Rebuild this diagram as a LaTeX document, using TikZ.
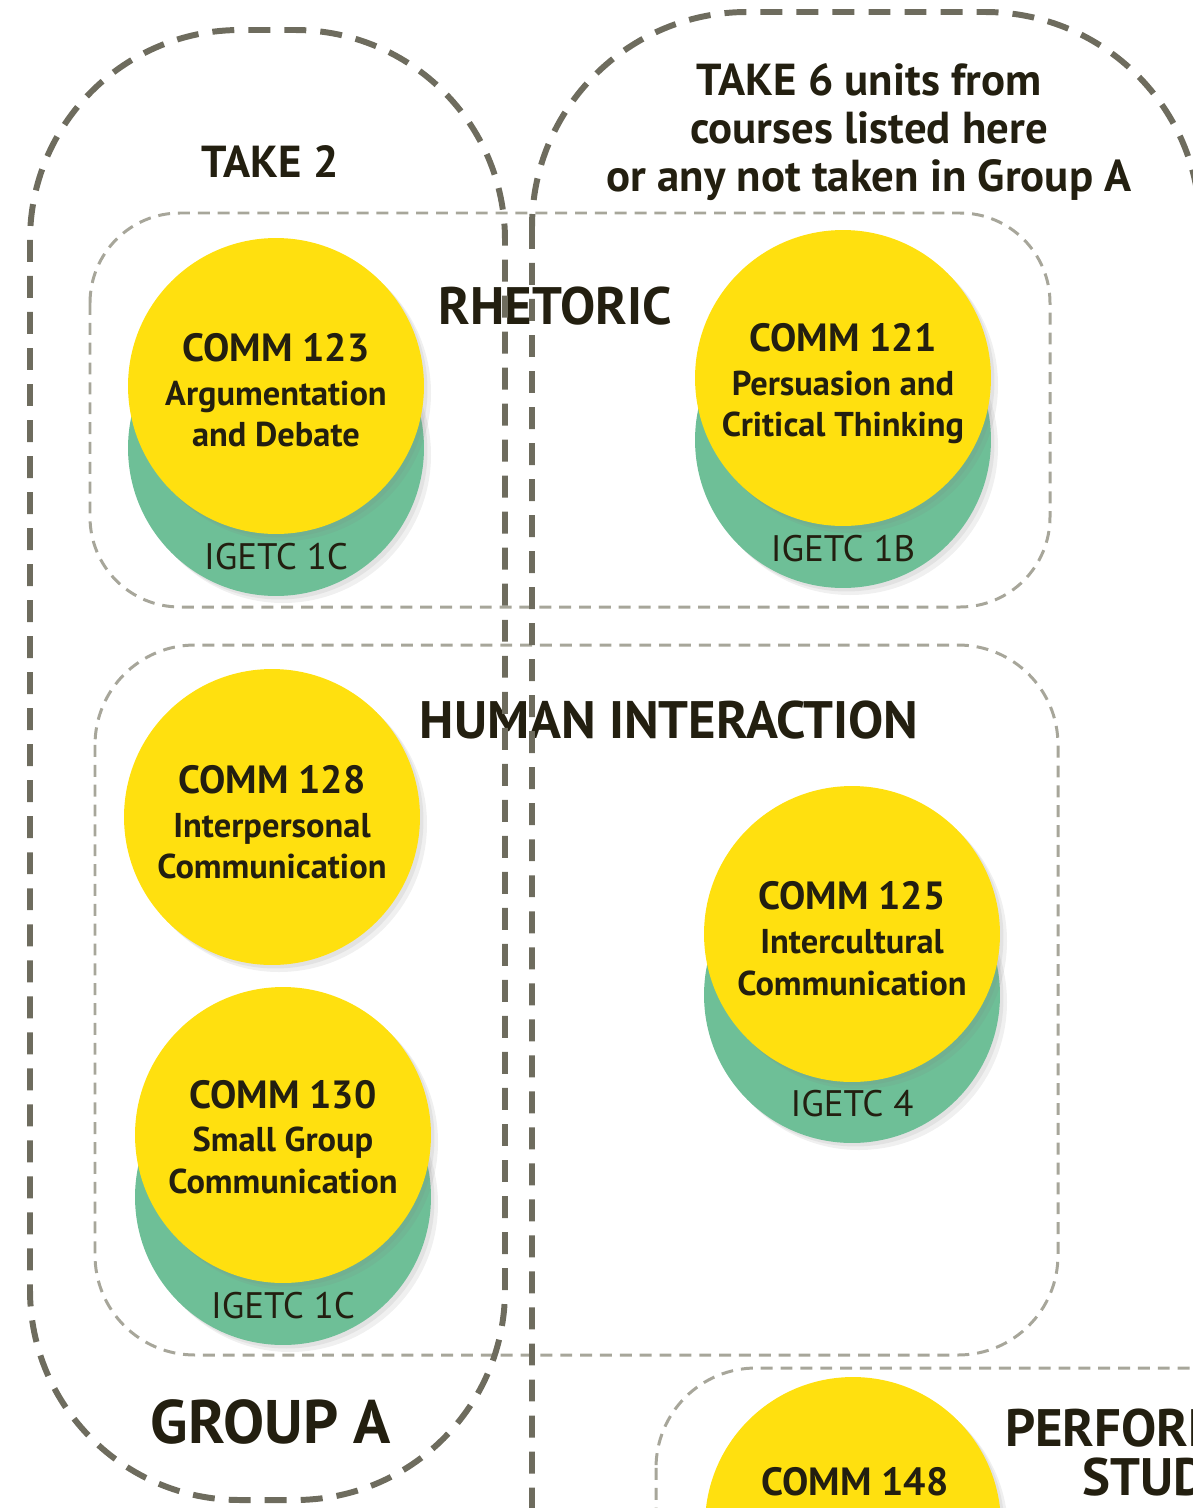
\documentclass[tikz,border=0pt]{standalone}
\usepackage{fontspec}
\setmainfont{PT Sans}
\usepackage{xcolor}
\usepackage{tikz}
\usetikzlibrary{positioning,shadows}

\definecolor{cyellow}{HTML}{FFE00F}
\definecolor{cgreen}{HTML}{6EBF97}
\definecolor{ink}{HTML}{231F10}
\definecolor{outerline}{HTML}{6E6C5E}
\definecolor{innerline}{HTML}{A7A69A}

\begin{document}
\begin{tikzpicture}[x=0.02cm,y=-0.02cm,
  softshadow/.style={drop shadow={opacity=.12,shadow xshift=2pt,shadow yshift=-2pt},
    drop shadow={opacity=.12,shadow xshift=4pt,shadow yshift=-4pt}},
  course/.style={circle,fill=cyellow,minimum size=5.92cm,inner sep=0pt,softshadow},
  igetc/.style={circle,fill=cgreen,minimum size=5.92cm,inner sep=0pt,softshadow},
  coursetext/.style={align=center,text=ink,font=\fontsize{19.6}{23.8}\selectfont\bfseries},
  tag/.style={text=ink,font=\fontsize{21}{24}\selectfont},
  head/.style={text=ink,font=\fontsize{30}{30}\selectfont\bfseries},
  take/.style={text=ink,align=center,font=\fontsize{25.5}{27.2}\selectfont\bfseries},
  groupbox/.style={draw=outerline,line width=3.4pt,dash pattern=on 12.5pt off 8pt},
  areabox/.style={draw=innerline,line width=1.7pt,dash pattern=on 6.8pt off 4.5pt}]
\useasboundingbox (0,0) rectangle (1193,1508);
\clip (0,0) rectangle (1193,1508);
\def\rhetbox{(90,213) rectangle (1050,607)}
  \def\humanbox{(95,645) rectangle (1058,1355)}
  \def\perfbox{(656,1368) rectangle (1400,1700)}
	\draw[areabox,rounded corners=1.8cm] \rhetbox;
	\draw[areabox,rounded corners=2cm] \humanbox;
	\draw[areabox,rounded corners=2cm] \perfbox;
% rhetoric
      \node[igetc] (g123) at (276,448) {};
      \node[course] (c123) at (276,386) {};
      \node[coursetext] (n123) at ([yshift=-2.4pt]c123.center) {{\fontsize{22.4}{25}\selectfont COMM 123}\\[1.2pt]Argumentation\\and Debate};
      \node[tag] (t123) at ([yshift=0.8cm]g123.south) {IGETC 1C};
      \node[igetc] (g121) at (843,440) {};
      \node[course] (c121) at (843,378) {};
      \node[coursetext] (n121) at ([yshift=-3.2pt]c121.center) {{\fontsize{22.4}{25}\selectfont COMM 121}\\[1.2pt]Persuasion and\\Critical Thinking};
      \node[tag] (t121) at ([yshift=0.8cm]g121.south) {IGETC 1B};
% human interaction
      \node[course] (c128) at (272,817) {};
      \node[coursetext] (n128) at ([yshift=-3pt]c128.center) {{\fontsize{22.4}{25}\selectfont COMM 128}\\[1.2pt]Interpersonal\\Communication};
      \node[igetc] (g130) at (283,1197) {};
      \node[course] (c130) at (283,1135) {};
      \node[coursetext] (n130) at ([yshift=-1.2pt]c130.center) {{\fontsize{22.4}{25}\selectfont COMM 130}\\[1.2pt]Small Group\\Communication};
      \node[tag] (t130) at ([yshift=0.8cm]g130.south) {IGETC 1C};
      \node[igetc] (g125) at (852,995) {};
      \node[course] (c125) at (852,934) {};
      \node[coursetext] (n125) at ([yshift=-2.8pt]c125.center) {{\fontsize{22.4}{25}\selectfont COMM 125}\\[1.2pt]Intercultural\\Communication};
      \node[tag] (t125) at ([yshift=0.8cm]g125.south) {IGETC 4};
% performance
      \node[course] (c148) at (853,1525) {};
      \node[coursetext] (n148) at (855,1482) {\fontsize{22.4}{25}\selectfont COMM 148};
% headings
      \node[take] (take2) at (270,162) {TAKE 2};
      \node[take] (take6) at (869,132) {TAKE 6 units from\\courses listed here\\or any not taken in Group A};
      \node[head] (rhet) at (555,306) {RHETORIC};
      \node[head] (human) at (669,720) {HUMAN INTERACTION};
      \node[head,anchor=west] (perf1) at (999,1428) {PERFORMANCE};
      \node[head,anchor=west] (perf2) at (1076,1477) {STUDIES};
      \node[text=ink,font=\fontsize{35}{35}\selectfont\bfseries] (groupa) at (271,1422) {GROUP A};
% groups
      \draw[groupbox,rounded corners=4.2cm] (30,30) rectangle (505,1500);
      \draw[groupbox,rounded corners=4.3cm] (532,12) rectangle (1200,1750);
\end{tikzpicture}
\end{document}
